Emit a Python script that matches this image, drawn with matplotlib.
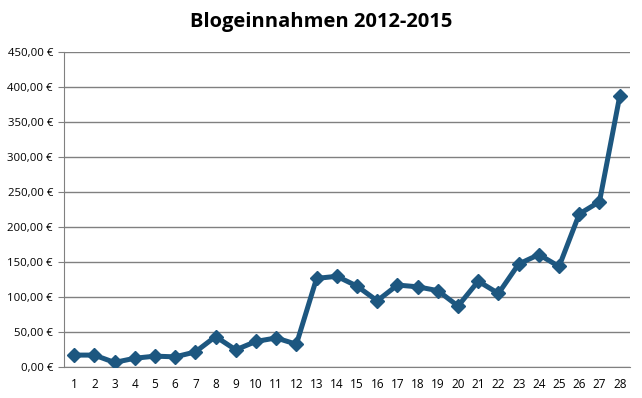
import matplotlib.pyplot as plt
from matplotlib.ticker import FuncFormatter

# Monatliche Blogeinnahmen (Monat 1..28)
months = list(range(1, 29))
earnings = [17.5, 17.5, 7, 13, 16, 15, 22, 44, 25, 37, 42, 33, 127, 130,
            116, 95, 117.5, 115, 109.5, 87.5, 123, 105.5, 147.5, 161, 144,
            219, 236.5, 387]
y_ticks = list(range(0, 451, 50))

plt.rcParams['font.family'] = ['Open Sans', 'DejaVu Sans']

fig = plt.figure(figsize=(6.42, 3.98), dpi=100)
ax = fig.add_axes([0.0997, 0.077, 0.8813, 0.792])

ax.plot(months, earnings, color='#1d5780', lw=3.6, marker='D', ms=7,
        markerfacecolor='#1d5780', markeredgecolor='#1d5780', solid_joinstyle='round', zorder=3)

ax.set_xlim(0.5, 28.5)
ax.set_ylim(0, 450)
ax.set_xticks(months)
ax.set_yticks(y_ticks)
ax.yaxis.set_major_formatter(FuncFormatter(lambda v, p: ('%.2f €' % v).replace('.', ',')))
ax.grid(axis='y', color='#808080', lw=1)
ax.set_axisbelow(True)

for s in ['top', 'right']:
    ax.spines[s].set_visible(False)
for s in ['left', 'bottom']:
    ax.spines[s].set_color('#808080')
ax.tick_params(axis='y', length=4, color='#808080', labelsize=8.2, pad=4)
ax.tick_params(axis='x', length=0, labelsize=8.5, pad=8)

fig.text(0.5, 0.945, 'Blogeinnahmen 2012-2015', ha='center', va='center',
         fontsize=14.5, fontweight='bold')

fig.savefig('out.png', dpi=100, facecolor='white')
